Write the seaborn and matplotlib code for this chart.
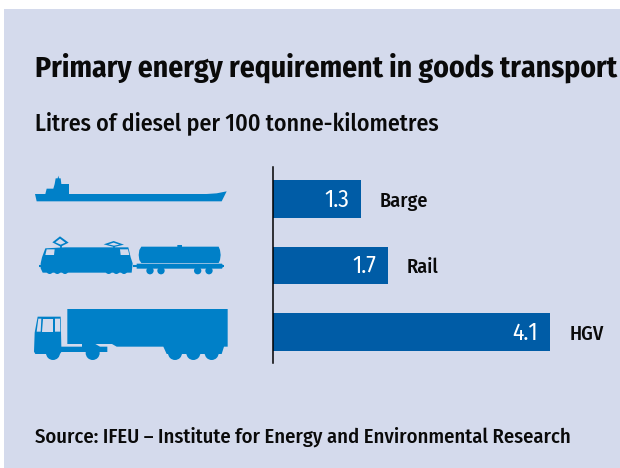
import logging
import matplotlib
matplotlib.use("Agg")
import matplotlib.pyplot as plt
from matplotlib.patches import Polygon, Circle, Rectangle
import seaborn as sns
import pandas as pd

logging.getLogger("matplotlib.font_manager").setLevel(logging.ERROR)

modes = ["Barge", "Rail", "HGV"]
litres = [1.3, 1.7, 4.1]
title = "Primary energy requirement in goods transport"
subtitle = "Litres of diesel per 100 tonne-kilometres"
source = "Source: IFEU \u2013 Institute for Energy and Environmental Research"

BG = "#D4DAEC"; BAR = "#005CA6"; ICON = "#0080C8"; INK = "#0A0A0A"
sns.set_theme(style="white")
plt.rcParams["font.family"] = ["Fira Sans Condensed", "Liberation Sans", "DejaVu Sans"]

W, H = 620, 468
fig = plt.figure(figsize=(W/100, H/100), dpi=100, facecolor="white")

# page layer in pixel coordinates
pg = fig.add_axes([0, 0, 1, 1], zorder=0)
pg.set_xlim(0, W); pg.set_ylim(H, 0); pg.axis("off")
pg.add_patch(Rectangle((3.5, 9), W-3.5, H-9, fc=BG, ec="none"))

def Z(pts):
    return [(20+x/3, 160+y/3) for x, y in pts]
def poly(pts, c=ICON, **k):
    pg.add_patch(Polygon(Z(pts), closed=True, fc=c, ec="none", **k))
def circ(x, y, r, c=ICON):
    pg.add_patch(Circle((20+x/3, 160+y/3), r/3, fc=c, ec="none"))
def line(pts, lw=1.0):
    xs, ys = zip(*Z(pts))
    pg.plot(xs, ys, color=ICON, lw=lw, solid_capstyle="butt")

# ship
poly([(45,102),(76,102),(80,86),(100,86),(104,72),(107,55),(113,55),(115,47),(117,55),(122,55),
      (124,72),(147,72),(147,102),(560,102),(590,100),(620,94),(605,124),(50,124)])

# locomotive
poly([(66,292),(76,265),(135,262),(325,262),(332,292),(338,310),(335,338),(68,338),(62,325),(62,310)])
poly([(80,268),(104,268),(102,285),(76,285)], BG)
poly([(300,268),(324,268),(328,285),(302,285)], BG)
for x in (89,112,135,266,289,312):
    circ(x, 332, 10)
line([(56,318),(66,318)], 1.5); line([(338,318),(352,318)], 1.5)
poly([(120,229),(146,248),(122,260),(97,247)], ICON)
poly([(120,236),(136,248),(122,254),(106,247)], BG)
line([(122,258),(122,264)], 1.2)
poly([(281,243),(312,254),(282,261),(251,253)], ICON)
poly([(281,248),(298,254),(282,257),(265,253)], BG)
line([(282,258),(282,264)], 1.2)

# tank wagon
poly([(364,260),(472,260),(472,255),(486,255),(486,260),(596,260),(600,270),(602,285),(600,300),(596,309),
      (364,309),(358,300),(356,285),(358,270)])
poly([(350,311),(606,311),(610,318),(606,326),(350,326)])
for x in (390,423,533,567):
    circ(x, 332, 11)
line([(606,318),(611,318)], 1.5)

# lorry
poly([(142,447),(623,447),(623,560),(612,560),(605,582),(440,582),(430,560),(290,560),(276,552),(142,552)])
poly([(53,470),(122,470),(124,560),(186,560),(186,552),(226,552),(240,560),(262,560),(262,576),
      (124,576),(120,582),(46,582),(42,575),(44,518)])
poly([(55,476),(64,476),(62,515),(50,515)], BG)
poly([(69,476),(100,476),(100,515),(66,515)], BG)
poly([(105,476),(120,476),(121,515),(105,515)], BG)
for x, r in ((99,21),(218,21),(465,21),(520,21),(575,21)):
    circ(x, 579, r)

# bars
ax = fig.add_axes([273/W, 1-363/H, (W-273)/W, 196/H], zorder=1)
ax.patch.set_alpha(0)
df = pd.DataFrame({"mode": modes, "litres": litres})
sns.barplot(data=df, x="litres", y="mode", order=modes, color=BAR, saturation=1,
            width=0.57, linewidth=0, edgecolor="none", ax=ax)
ax.set_xlim(0, (W-273)/67.6)
ax.set_ylim(2.466, -0.481)
ax.set_xlabel(""); ax.set_ylabel("")
ax.set_xticks([]); ax.set_yticks([])
for s in ("top", "right", "bottom"):
    ax.spines[s].set_visible(False)
ax.spines["left"].set_color("black"); ax.spines["left"].set_linewidth(1.1)
for i, (m, v) in enumerate(zip(modes, litres)):
    ax.annotate(f"{v:.1f}", (v, i), xytext=(-12, -8), textcoords="offset pixels",
                ha="right", va="baseline", color="white", fontsize=17, fontweight="normal")
    ax.annotate(m, (v, i), xytext=(19, -8), textcoords="offset pixels",
                ha="left", va="baseline", color=INK, fontsize=14.5, fontweight="medium")

def fitted(x, y, s, width, size, weight):
    t = pg.text(x, y, s, ha="left", va="baseline", fontsize=size, fontweight=weight, color=INK)
    for _ in range(3):
        fig.canvas.draw()
        t.set_fontsize(t.get_fontsize()*width/t.get_window_extent().width)
fitted(35, 77, title, 583, 21, "bold")
fitted(35, 130, subtitle, 404, 18, "medium")
fitted(35, 443, source, 535, 15, "medium")

fig.savefig("out.png", dpi=100, facecolor=fig.get_facecolor())
